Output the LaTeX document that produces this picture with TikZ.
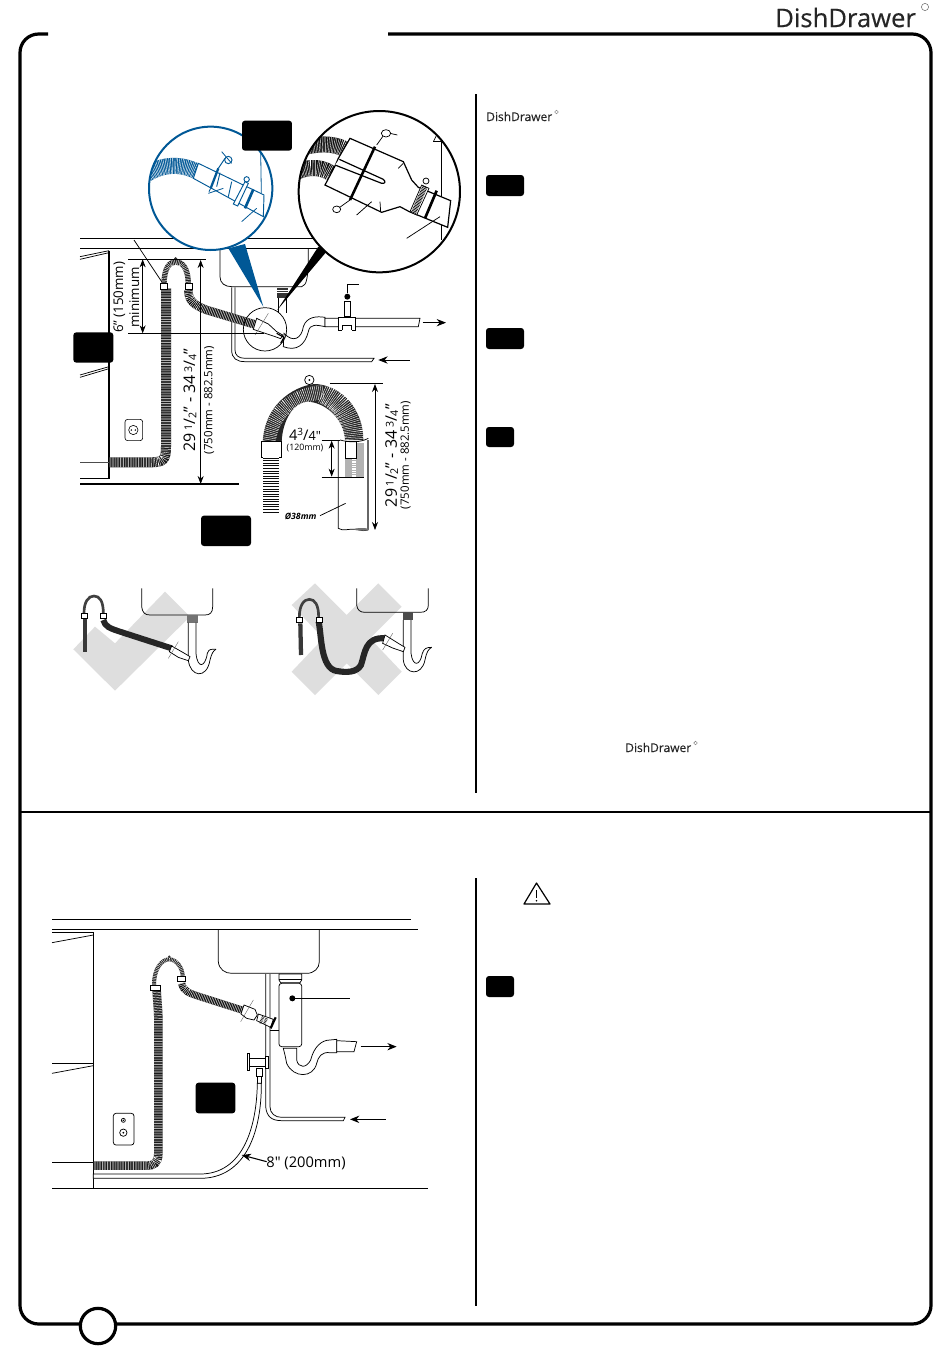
\documentclass[tikz,border=0pt]{standalone}
\usepackage{fontspec}
\setmainfont{Open Sans}
\newfontfamily\logofont[FakeBold=.35]{Open Sans}
\newfontfamily\plainfont{Open Sans}
\usetikzlibrary{arrows.meta}
\definecolor{diablue}{RGB}{0,88,150}
\definecolor{xgray}{RGB}{222,222,222}
\newcommand\hosepath[3][black!90]{%
  \draw[line width=#2,#1,line cap=butt] #3;
  \draw[line width=#2,white,line cap=butt,dash pattern=on .28pt off .95pt] #3;}
\newcommand\frc[2]{\,{\fontsize{8}{8}\selectfont\raisebox{.55ex}{#1}}/{\fontsize{8}{8}\selectfont\raisebox{-.2ex}{#2}}}
\tikzset{
  thin line/.style={line width=.55pt,black},
  med line/.style={line width=.9pt,black},
  grayline/.style={line width=.7pt,black!60},
  label box/.style={fill=black,rounded corners=2.2pt,draw=none},
  dim/.style={line width=.55pt,{Stealth[length=6pt,width=4.5pt]}-{Stealth[length=6pt,width=4.5pt]}},
  flow/.style={line width=.7pt,-{Stealth[length=7pt,width=5.5pt]}},
  clipwhite/.style={fill=white,draw=black,line width=.45pt},
  logo/.style={font=\logofont\fontsize{#1}{#1}\selectfont,text=black!85,inner sep=0pt,anchor=west},
  dimtxt/.style={font=\fontsize{#1}{#1}\selectfont,inner sep=0pt},
}
\begin{document}
\begin{tikzpicture}[x=.75pt,y=-.75pt]
\useasboundingbox (0,0) rectangle (950,1353);
% frame
\draw[line width=2.4pt,rounded corners=14pt] (48,34) -- (20,34) -- (20,1324) -- (931,1324) -- (931,34) -- (388,34);
\draw[line width=2.2pt] (20,812) -- (931,812);
\draw[line width=1.5pt] (476,94) -- (476,793);
\draw[line width=1.5pt] (476,878) -- (476,1306);
\node[circle,draw=black,fill=white,line width=2.4pt,minimum size=26.5pt,inner sep=0pt] (page) at (98,1326) {};
% logos
\node[logo=19.2] (logomain) at (775,17.5) {DishDrawer};
\draw[black!55,line width=.4pt] (925,7) circle (3.6);
\node[logo=9] (logoa) at (486,116.5) {DishDrawer};
\draw[black!55,line width=.3pt] (556.5,112) circle (1.8);
\node[logo=9] (logob) at (625,747.5) {DishDrawer};
\draw[black!55,line width=.3pt] (695.5,743) circle (1.8);
% right column badges
\fill[label box] (486,175) rectangle (524,196);
\fill[label box] (486,328) rectangle (524,349);
\fill[label box] (486,427) rectangle (514,447);
\fill[label box] (486,976) rectangle (514,997);
% warning
\draw[line width=.9pt,line join=round] (536.5,883) -- (550,904) -- (524,904) -- cycle;
\draw[line width=1.2pt] (536.5,890) -- (536.5,898);
\fill (536.5,900.8) circle (.9);

% ================= TOP DIAGRAM (zoom 1 coordinates) =================
\begin{scope}[shift={(60,100)},scale=1/3]
 \draw[med line] (60,415) -- (770,415);
 \draw[med line] (60,445) -- (770,445);
 \draw[med line] (147,452) -- (147,1136);
 \draw[thin line] (60,470) -- (147,452) (60,478) -- (147,458);
 \draw[thin line] (60,825) -- (147,800) (60,832) -- (147,806);
 \draw[med line] (60,1136) -- (147,1136);
 \draw[med line] (60,1152) -- (536,1152);
 \draw[line width=1.2pt,black!70] (60,1087) -- (147,1087);
 % sink
 \draw[thin line] (480,445) -- (480,530) .. controls (480,550) and (495,560) .. (515,560) -- (725,560) .. controls (740,555) and (745,540) .. (745,445);
 \fill[black!80] (650,565) rectangle (685,595);
 \draw[white,line width=.4pt] (650,572) -- (685,572) (650,578) -- (685,578);
 \draw[thin line] (655,595) -- (655,640) (680,595) -- (680,640);
 % supply pipe
 \draw[thin line] (515,562) -- (515,750) .. controls (515,775) and (530,785) .. (555,785) -- (935,785) -- (942,775) -- (555,775) .. controls (535,775) and (525,765) .. (525,750) -- (525,562);
 \draw[flow] (1050,780) -- (955,780);
 % trap + drain pipe
 \draw[thin line,fill=white] (670,740) .. controls (710,755) and (735,735) .. (745,695) .. controls (750,670) and (770,675) .. (795,680)
   -- (795,652) .. controls (770,648) and (740,650) .. (730,680) .. controls (725,715) and (700,730) .. (672,700) -- cycle;
 \draw[thin line,fill=white] (795,655) -- (1080,655) -- (1075,680) -- (795,680) -- cycle;
 \draw[thin line,fill=white] (835,652) rectangle (885,690);
 \fill[white] (846,675) rectangle (875,692);
 \draw[thin line] (846,690) -- (846,675) -- (875,675) -- (875,690);
 \draw[thin line,fill=white] (852,605) -- (870,605) -- (870,650) -- (852,650) -- cycle;
 \fill (862,590) circle (9);
 \draw[thin line] (862,580) -- (862,553) -- (897,553);
 \draw[flow] (1088,668) -- (1158,668);
 % U hose + drain hose
 \hosepath{7.5pt}{(318,565) -- (318,1040)  .. controls (318,1080) and (310,1087) .. (270,1087) -- (147,1087)}
 \hosepath[black!95]{6.4pt}{(385,570) .. controls (385,600) and (400,615) .. (440,630) -- (590,675)}
 \hosepath[black!88]{4pt}{(312,556) .. controls (312,500) and (330,486) .. (347,486) .. controls (365,486) and (385,500) .. (385,556)}
 \fill[black!80] (347,476) circle (5);
 \draw[clipwhite] (302,550) rectangle (322,568);
 \draw[clipwhite] (376,550) rectangle (396,568);
 \draw[thin line] (222,420) -- (305,545);
 % fitting in small circle
 \draw[thin line,fill=white] (590,655) -- (625,672) -- (650,695) -- (668,705) -- (662,716) -- (640,708) -- (580,688) -- cycle;
 \draw[line width=.3pt,black!60] (625,640) -- (585,705);
 \draw[thin line] (615,688) circle (65);
 \draw[line width=.9pt] (650,700) -- (672,712) -- (662,730);
 % dimensions
 \draw[thin line] (205,478) -- (438,478);
 \draw[thin line] (205,700) -- (612,700);
 \draw[dim] (248,478) -- (248,700);
 \draw[dim] (422,1152) -- (422,480);
 % wedges
 \fill[diablue] (505,445) -- (555,432) -- (610,620) -- cycle;
 \fill[black] (775,440) -- (802,452) -- (652,630) -- cycle;
 % blue circle
 \fill[white] (452,265) circle (185);
 \begin{scope}
  \clip (452,265) circle (185);
  \draw[line width=12pt,diablue,line cap=butt] (260,222) .. controls (310,192) and (360,190) .. (410,214);
  \draw[line width=12pt,white,line cap=butt,dash pattern=on .3pt off .9pt] (260,222) .. controls (310,192) and (360,190) .. (410,214);
  \draw[diablue,line width=.7pt,fill=white] (415,190) -- (612,285) -- (610,350) -- (400,235) -- cycle;
  \draw[diablue,line width=.7pt] (480,218) -- (470,260) (515,245) -- (505,290);
  \draw[diablue,line width=1.7pt] (475,205) -- (452,265);
  \draw[diablue,line width=.7pt] (475,205) -- (495,175) (452,265) -- (447,275);
  \draw[diablue,line width=.7pt] (505,180) circle (11);
  \draw[diablue,line width=.6pt] (485,155) -- (515,190);
  \draw[diablue,line width=.7pt,fill=white] (555,245) -- (565,250) -- (533,318) -- (520,312) -- cycle;
  \draw[diablue,line width=.7pt] (560,238) circle (8);
  \draw[diablue,line width=2pt] (580,268) -- (555,325);
  \draw[diablue,line width=.6pt] (445,280) -- (490,265) (545,365) -- (590,325);
 \end{scope}
 \draw[diablue,line width=1.5pt] (452,265) circle (185);
 \draw[diablue,line width=.6pt] (602,152) -- (604,280);
 % black circle
 \fill[white] (958,275) circle (242);
 \begin{scope}
  \clip (958,275) circle (242);
  \draw[thin line] (1120,125) -- (1145,125) -- (1145,420);
  \draw[thin line] (1120,125) -- (1130,105);
  \hosepath[black!95]{12pt}{(705,150) .. controls (760,130) and (820,125) .. (862,152)}
  \hosepath[black!95]{12pt}{(700,220) .. controls (750,195) and (790,200) .. (825,228)}
  \draw[med line,fill=white] (870,115) -- (1030,185) -- (1055,240) -- (1075,262) -- (1172,302) -- (1163,382) -- (1048,335) -- (1020,320) -- (965,337) -- (795,255) -- (825,198) -- (835,175) -- cycle;
  \draw[med line,fill=white] (838,178) -- (970,238) .. controls (978,245) and (975,252) .. (965,250) -- (825,195);
  \draw[line width=1.9pt] (945,140) -- (870,300);
  \draw[thin line] (950,135) -- (975,100) (870,300) -- (835,325);
  \draw[thin line,fill=white] (978,100) ellipse (14 and 11);
  \draw[thin line,fill=white] (830,328) ellipse (12 and 10);
  \draw[thin line] (990,100) -- (1012,105) (1040,415) -- (1140,350) (890,345) -- (935,305) (1015,205) -- (1030,190) (960,305) -- (962,335);
  \draw[thin line,fill=white] (1085,255) -- (1107,265) -- (1070,345) -- (1050,335) -- cycle;
  \draw[black,dash pattern=on .5pt off .6pt,line width=4pt] (1095,260) -- (1060,340);
  \draw[thin line] (1098,243) circle (9);
  \draw[line width=2pt] (1130,272) -- (1095,355);
 \end{scope}
 \draw[line width=1.5pt] (958,275) circle (242);
 % badges
 \fill[label box] (546,62) rectangle (696,152);
 \fill[label box] (40,697) rectangle (160,788);
 % text
 \node[dimtxt=10,rotate=90] (t1) at (178,592) {6” (150mm)};
 \node[dimtxt=10,rotate=90] (t2) at (223,592) {minimum};
\end{scope}

% ================= MIDDLE (zoom 2 coordinates) =================
\begin{scope}[shift={(60,360)},scale=1/3]
 \draw[thin line,rounded corners=2pt,line width=.45pt] (195,178) rectangle (248,242);
 \draw[thin line,line width=.45pt] (220,210) circle (14);
 \fill (214,210) circle (2.5) (226,210) circle (2.5);
 \node[dimtxt=12,rotate=90] (t3) at (390,120) {29\frc{1}{2}” - 34\frc{3}{4}”};
 \node[dimtxt=8.6,rotate=90] (t4) at (447,120) {(750mm - 882.5mm)};
 % pipe
 \draw[grayline,line width=1.4pt] (925,240) -- (925,510);
 \draw[thin line] (835,240) -- (835,505) .. controls (850,515) and (865,505) .. (890,508) .. controls (905,512) and (915,514) .. (925,510);
 \fill[black!55] (905,508) ellipse (22 and 4);
 \fill[black!30] (855,250) rectangle (912,350);
 \draw[white,line width=3pt,dash pattern=on .5pt off .8pt] (883,250) -- (883,350);
 \draw[thin line,fill=white] (855,245) rectangle (890,295);
 % U hose
 \fill[black!85] (608,245) .. controls (615,120) and (720,72) .. (770,72) .. controls (850,80) and (910,150) .. (910,240) -- (855,240) .. controls (850,170) and (790,125) .. (740,125) .. controls (700,130) and (668,180) .. (665,245) -- cycle;
 \draw[white,line width=18pt,dash pattern=on .3pt off 1.1pt,line cap=butt] (790,95) .. controls (850,120) and (880,170) .. (882,240);
 \draw[white,line width=11pt,dash pattern=on .3pt off 1.1pt,line cap=butt] (625,245) .. controls (635,170) and (680,110) .. (790,95);
 \draw[thin line] (840,240) .. controls (870,248) and (900,248) .. (925,235);
 \draw[thin line,fill=white] (748,60) circle (14);
 \fill (748,60) circle (3);
 \draw[clipwhite] (605,245) rectangle (665,292);
 \hosepath[black!95]{12pt}{(632,292) -- (632,462)}
 % dims
 \draw[thin line] (810,70) -- (968,70);
 \draw[thin line] (785,240) -- (840,240);
 \draw[thin line] (785,352) -- (912,352);
 \draw[dim] (945,72) -- (945,510);
 \draw[dim] (815,242) -- (815,350);
 \draw[thin line] (780,467) -- (857,430);
 \node[dimtxt=11,anchor=center] (t5) at (735,224) {4\raisebox{.6ex}{\fontsize{7.5}{7.5}\selectfont 3}/\fontsize{9.5}{9.5}\selectfont 4{\plainfont"}};
 \node[dimtxt=6.6] (t6) at (735,265) {(120mm)};
 \node[dimtxt=6.5,font=\fontsize{6.5}{6.5}\selectfont\bfseries\itshape] (t7) at (722,468) {Ø38mm};
 \node[dimtxt=12,rotate=90] (t8) at (995,287) {29\frc{1}{2}” - 34\frc{3}{4}”};
 \node[dimtxt=8.6,rotate=90] (t9) at (1037,285) {(750mm - 882.5mm)};
 \fill[label box] (423,467) rectangle (573,558);
 % left small figure
 \fill[xgray] (40,868) -- (105,800) -- (165,850) -- (315,695) -- (390,770) -- (165,992) -- cycle;
 \draw[thin line] (245,685) -- (245,740) .. controls (247,758) and (255,765) .. (270,765) -- (435,765) .. controls (450,765) and (458,758) .. (458,740) -- (458,685);
 \fill[black!55] (380,765) rectangle (415,788);
 \draw[thin line] (385,788) -- (385,900) .. controls (390,950) and (440,960) .. (450,900) .. controls (455,880) and (460,872) .. (468,868);
 \draw[thin line] (408,788) -- (408,880) .. controls (412,925) and (435,925) .. (442,880) .. controls (447,865) and (455,868) .. (468,868);
 \draw[line width=3.2pt,black!78] (75,775) -- (75,875);
 \draw[line width=4.5pt,black!85] (130,780) .. controls (135,800) and (150,805) .. (180,815) -- (335,865);
 \draw[line width=2pt,black!75] (72,760) .. controls (72,725) and (85,708) .. (102,708) .. controls (120,708) and (130,725) .. (130,760);
 \draw[clipwhite] (65,760) rectangle (82,775);
 \draw[clipwhite] (122,760) rectangle (139,775);
 \draw[thin line,fill=white] (335,858) -- (370,878) -- (390,890) -- (385,902) -- (355,892) -- (328,875) -- cycle;
 \draw[line width=.3pt,black!60] (355,845) -- (325,895);
 % right small figure
 \fill[xgray] (695,735) -- (765,670) -- (860,765) -- (955,670) -- (1025,740) -- (930,835) -- (1025,935) -- (955,1005) -- (860,910) -- (765,1005) -- (695,935) -- (790,835) -- cycle;
 \draw[thin line] (890,685) -- (890,735) .. controls (892,750) and (900,757) .. (915,757) -- (1080,757) .. controls (1097,757) and (1105,750) .. (1105,735) -- (1105,685);
 \fill[black!70] (1028,757) rectangle (1060,780);
 \draw[thin line] (1030,780) -- (1030,900) .. controls (1035,945) and (1085,950) .. (1095,900) .. controls (1100,875) and (1105,868) .. (1115,862);
 \draw[thin line] (1053,780) -- (1053,880) .. controls (1058,920) and (1080,920) .. (1087,880) .. controls (1092,865) and (1100,862) .. (1115,862);
 \draw[line width=3.2pt,black!78] (721,790) -- (723,885);
 \draw[line width=4.6pt,black!85] (776,785) .. controls (785,830) and (782,925) .. (830,933) .. controls (860,938) and (890,938) .. (903,915) .. controls (915,880) and (915,830) .. (975,835);
 \draw[line width=2pt,black!75] (718,772) .. controls (718,735) and (732,718) .. (748,718) .. controls (765,718) and (776,735) .. (776,772);
 \draw[clipwhite] (710,772) rectangle (728,787);
 \draw[clipwhite] (768,772) rectangle (786,787);
 \draw[thin line,fill=white] (975,825) -- (1015,850) -- (1035,862) -- (1030,875) -- (998,864) -- (968,850) -- cycle;
 \draw[line width=.3pt,black!60] (998,820) -- (968,870);
\end{scope}

% ================= BOTTOM DIAGRAM (zoom 3 coordinates) =================
\begin{scope}[shift={(40,900)},scale=1/3]
 \draw[med line] (36,58) -- (1113,58);
 \draw[med line] (36,88) -- (1133,88);
 \draw[med line] (160,97) -- (160,865);
 \draw[med line] (36,97) -- (160,97);
 \draw[thin line] (36,128) -- (160,105);
 \draw[med line] (36,490) -- (160,490);
 \draw[thin line] (36,520) -- (160,497);
 \draw[med line] (36,788) -- (160,788);
 \draw[med line] (36,865) -- (1163,865);
 \draw[thin line] (535,90) -- (535,185) .. controls (537,208) and (555,220) .. (575,220) -- (800,220) .. controls (822,220) and (838,205) .. (838,185) -- (838,90);
 % supply pipe
 \draw[thin line] (677,222) -- (677,620) .. controls (680,650) and (695,662) .. (725,662) -- (910,662) -- (915,652) -- (725,652) .. controls (705,652) and (690,640) .. (690,620) -- (690,222);
 \draw[flow] (1037,658) -- (930,658);
 % drain body
 \draw[thin line,fill=white] (717,222) -- (785,222) -- (785,240) -- (780,248) -- (722,248) -- (717,240) -- cycle;
 \draw[thin line] (717,238) -- (785,238);
 \draw[thin line,fill=white,rounded corners=2pt] (717,250) rectangle (785,440);
 \fill (757,295) circle (9);
 \draw[thin line] (757,295) -- (930,295);
 \draw[thin line] (690,390) -- (717,390);
 % trap
 \draw[thin line,fill=white] (730,445) -- (770,445) -- (770,480) .. controls (775,505) and (800,505) .. (812,480) .. controls (822,440) and (845,420) .. (870,420) -- (890,418) -- (890,458) -- (870,458) .. controls (845,455) and (835,470) .. (830,490) .. controls (820,535) and (760,535) .. (740,490) -- (735,465) -- cycle;
 \draw[thin line,fill=white] (890,422) -- (950,425) -- (942,455) -- (890,455) -- cycle;
 \draw[flow] (962,440) -- (1070,440);
 % valve
 \draw[thin line,fill=white] (622,460) rectangle (629,510);
 \draw[thin line,fill=white] (629,476) rectangle (676,500);
 \draw[thin line,fill=white] (676,470) rectangle (686,505);
 \draw[thin line,fill=white] (650,505) rectangle (666,530);
 \draw[thin line,fill=white] (652,530) rectangle (664,550);
 % flex hose
 \draw[thin line,fill=white] (652,550) .. controls (650,680) and (610,822) .. (480,822) -- (160,822) -- (160,835) -- (480,835) .. controls (620,835) and (665,690) .. (664,550) -- cycle;
 \draw[flow,line width=.8pt] (680,785) -- (605,765);
 \node[font=\plainfont\fontsize{11}{11}\selectfont,inner sep=0pt] (t10) at (798,790) {8" (200mm)};
 % corrugated hose
 \hosepath{6.4pt}{(350,272) .. controls (352,310) and (355,330) .. (355,360) -- (355,760) .. controls (355,790) and (340,797) .. (320,797) -- (160,797)}
 \hosepath[black!95]{5.4pt}{(425,250) .. controls (430,275) and (450,280) .. (480,290) -- (612,332)}
 \hosepath[black!85]{3pt}{(342,255) .. controls (342,205) and (365,178) .. (388,178) .. controls (410,178) and (428,205) .. (428,228)}
 \fill[black!80] (388,170) circle (4);
 \draw[clipwhite] (332,255) rectangle (362,272);
 \draw[clipwhite] (413,228) rectangle (437,244);
 % fitting
 \draw[thin line,fill=white] (612,315) -- (645,328) -- (652,345) -- (642,360) -- (620,355) -- (603,342) -- cycle;
 \draw[line width=.3pt,black!60] (640,300) -- (602,365);
 \draw[thin line,fill=white] (655,342) -- (700,358) -- (692,382) -- (650,362) -- cycle;
 \draw[line width=2pt,black!85,dash pattern=on .5pt off .6pt] (670,350) -- (660,370) (680,355) -- (672,372);
 \draw[line width=1.6pt] (707,352) -- (692,385);
 % socket
 \draw[thin line,rounded corners=2pt] (220,640) rectangle (282,735);
 \draw[thin line] (250,661) circle (6);
 \draw[thin line] (250,698) circle (11);
 \fill (250,661) circle (2.5) (250,698) circle (3);
 \fill[label box] (467,548) rectangle (586,640);
\end{scope}
\end{tikzpicture}
\end{document}
